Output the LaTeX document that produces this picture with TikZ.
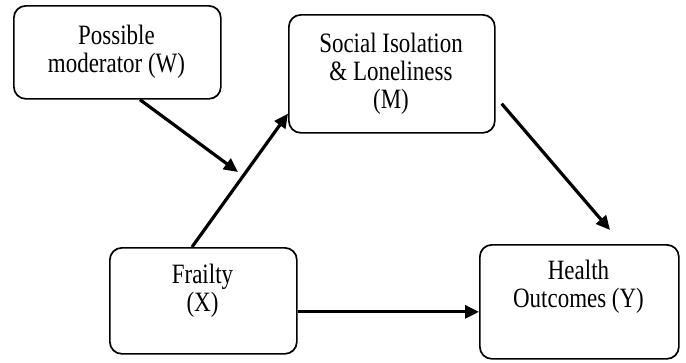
\documentclass[tikz,border=0pt]{standalone}
\usepackage{fontspec}
\setmainfont{Liberation Serif}[FakeStretch=0.82]
\usetikzlibrary{arrows.meta,calc}
\begin{document}
\begin{tikzpicture}[x=1pt,y=-1pt,
  box/.style={draw, line width=1.7pt, rounded corners=12pt, inner sep=0pt, anchor=north west},
  lbl/.style={align=center, font=\fontsize{28}{28}\selectfont, inner sep=0pt},
  link/.style={line width=3.2pt, -{Triangle[length=14pt,width=13pt]}}]
\useasboundingbox (0,0) rectangle (686,362);

% boxes
\node[box, minimum width=207pt, minimum height=93pt]  (w) at (13,5)    {};
\node[box, minimum width=206pt, minimum height=118pt] (m) at (288,14)  {};
\node[box, minimum width=187pt, minimum height=106pt] (x) at (109,247) {};
\node[box, minimum width=199pt, minimum height=114pt] (y) at (479,244) {};

% labels
\node[lbl] (wt) at (116.5,51.5) {Possible\\moderator (W)};
\node[lbl] (mt) at (391,74)     {Social Isolation\\\& Loneliness\\(M)};
\node[lbl] (xt) at (202.5,291)  {Frailty\\(X)};
\node[lbl] (yt) at (578.5,287)  {Health\\Outcomes (Y)};

% point where the moderator arrow meets the X-M path
\coordinate (wtip) at (238,172);

% connectors
\draw[link] ([xshift=127pt]w.south west) -- (wtip);
\draw[link] ([xshift=83pt]x.north west) -- ([yshift=20pt]m.south west);
\draw[link] ([xshift=6pt,yshift=30pt]m.south east) -- ([xshift=131pt,yshift=14pt]y.north west);
\draw[link] ([yshift=-11pt]x.east) -- ([yshift=-10pt]y.west);
\end{tikzpicture}
\end{document}
